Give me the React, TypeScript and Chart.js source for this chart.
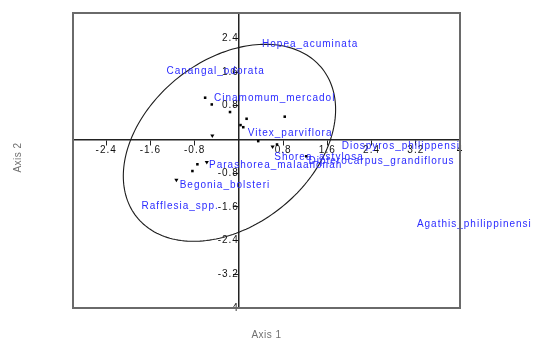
import React, { useEffect, useRef } from 'react';
import { Chart, registerables } from 'chart.js';

Chart.register(...registerables);

// Axis ranges and ticks
const X_MIN = -3;
const X_MAX = 4;
const Y_MIN = -4;
const Y_MAX = 3;
const X_TICKS = [-2.4, -1.6, -0.8, 0, 0.8, 1.6, 2.4, 3.2, 4];
const X_TICK_LABELS = ['-2.4', '-1.6', '-0.8', '', '0.8', '1.6', '2.4', '3.2', '4'];
const Y_TICKS = [-4, -3.2, -2.4, -1.6, -0.8, 0, 0.8, 1.6, 2.4];
const Y_TICK_LABELS = ['-4', '-3.2', '-2.4', '-1.6', '-0.8', '', '0.8', '1.6', '2.4'];

const X_TITLE = 'Axis 1';
const Y_TITLE = 'Axis 2';

// Unlabelled square markers
const SQUARE_X = [-0.61, -0.49, -0.16, 0.14, 0.03, 0.08, 0.35, 0.83, 0.69, 1.22, -0.75, -0.84];
const SQUARE_Y = [0.99, 0.83, 0.65, 0.49, 0.34, 0.29, -0.04, 0.54, -0.12, -0.4, -0.59, -0.75];

// Triangle markers
const TRIANGLE_X = [-0.48, 0.61, -0.58, -1.13];
const TRIANGLE_Y = [0.09, -0.17, -0.54, -0.96];

// Species labels (text anchor: left / middle)
const SPECIES_NAMES = [
  'Hopea_acuminata',
  'Canangal_odorata',
  'Cinamomum_mercadol',
  'Vitex_parviflora',
  'Diospyros_philippensi',
  'Shorea_astylosa',
  'Dipterocarpus_grandiflorus',
  'Parashorea_malaanonan',
  'Begonia_bolsteri',
  'Rafflesia_spp.',
  'Agathis_philippinensi',
];
const SPECIES_X = [0.42, -1.31, -0.45, 0.16, 1.86, 0.64, 1.26, -0.54, -1.07, -1.76, 3.22];
const SPECIES_Y = [2.25, 1.62, 0.97, 0.14, -0.17, -0.43, -0.52, -0.62, -1.09, -1.59, -2.01];

// Confidence ellipse: centre and two conjugate semi-diameters (data units)
const ELLIPSE_CENTER = [-0.17, -0.08];
const ELLIPSE_AXIS_A = [1.92, 0.79];
const ELLIPSE_AXIS_B = [0, 2.2];

const FONT = '"Liberation Sans", Arial, sans-serif';

const overlayPlugin = {
  id: 'overlay',
  beforeDraw(chart: any) {
    chart.ctx.letterSpacing = '1px';
  },
  afterDatasetsDraw(chart: any) {
    const { ctx, scales } = chart;
    const xs = scales.x;
    const ys = scales.y;
    ctx.save();
    // ellipse
    ctx.beginPath();
    const n = 200;
    for (let i = 0; i <= n; i++) {
      const t = (i / n) * Math.PI * 2;
      const c = Math.cos(t);
      const s = Math.sin(t);
      const vx = ELLIPSE_CENTER[0] + ELLIPSE_AXIS_A[0] * c + ELLIPSE_AXIS_B[0] * s;
      const vy = ELLIPSE_CENTER[1] + ELLIPSE_AXIS_A[1] * c + ELLIPSE_AXIS_B[1] * s;
      const px = xs.getPixelForValue(vx);
      const py = ys.getPixelForValue(vy);
      if (i === 0) ctx.moveTo(px, py);
      else ctx.lineTo(px, py);
    }
    ctx.strokeStyle = '#1c1c1c';
    ctx.lineWidth = 1.1;
    ctx.stroke();

    // labels
    ctx.font = `10px ${FONT}`;
    ctx.letterSpacing = '1px';
    ctx.fillStyle = '#2b2bff';
    ctx.textAlign = 'left';
    ctx.textBaseline = 'middle';
    for (let i = 0; i < SPECIES_NAMES.length; i++) {
      ctx.fillText(SPECIES_NAMES[i], xs.getPixelForValue(SPECIES_X[i]), ys.getPixelForValue(SPECIES_Y[i]));
    }
    ctx.restore();
  },
  afterDraw(chart: any) {
    const { ctx, chartArea } = chart;
    ctx.save();
    ctx.strokeStyle = '#6a6a6a';
    ctx.lineWidth = 2;
    ctx.strokeRect(chartArea.left, chartArea.top, chartArea.right - chartArea.left, chartArea.bottom - chartArea.top);

    ctx.font = `10px ${FONT}`;
    ctx.letterSpacing = '0.5px';
    ctx.fillStyle = '#707070';
    ctx.textAlign = 'center';
    ctx.textBaseline = 'middle';
    ctx.fillText(X_TITLE, (chartArea.left + chartArea.right) / 2, chartArea.bottom + 27);
    ctx.translate(18, (chartArea.top + chartArea.bottom) / 2 - 3);
    ctx.rotate(-Math.PI / 2);
    ctx.fillText(Y_TITLE, 0, 0);
    ctx.restore();
    ctx.letterSpacing = '0px';
  },
};

export default function App() {
  const ref = useRef<HTMLCanvasElement>(null);

  useEffect(() => {
    if (!ref.current) return;
    const chart = new Chart(ref.current, {
      type: 'scatter',
      data: {
        datasets: [
          {
            data: SQUARE_X.map((x, i) => ({ x, y: SQUARE_Y[i] })),
            pointStyle: 'rect',
            pointRadius: 1.8,
            backgroundColor: '#000',
            borderColor: '#000',
            borderWidth: 0,
          },
          {
            data: TRIANGLE_X.map((x, i) => ({ x, y: TRIANGLE_Y[i] })),
            pointStyle: 'triangle',
            rotation: 180,
            pointRadius: 2.4,
            backgroundColor: '#000',
            borderColor: '#000',
            borderWidth: 0,
          },
        ],
      },
      plugins: [overlayPlugin],
      options: {
        animation: false,
        responsive: false,
        events: [],
        layout: { padding: { left: 73, top: 13, right: 78, bottom: 37 } },
        plugins: { legend: { display: false }, tooltip: { enabled: false } },
        scales: {
          x: {
            type: 'linear',
            min: X_MIN,
            max: X_MAX,
            position: { y: 0 } as any,
            afterBuildTicks: (scale: any) => {
              scale.ticks = X_TICKS.map((v) => ({ value: v }));
            },
            ticks: {
              autoSkip: false,
              maxRotation: 0,
              padding: 0,
              color: '#111',
              font: { family: FONT, size: 10 },
              callback: (_v: any, i: number) => X_TICK_LABELS[i],
            },
            grid: { drawOnChartArea: false, drawTicks: true, tickLength: 5, color: '#222', lineWidth: 1 },
            border: { display: true, color: '#222', width: 1.5 },
          },
          y: {
            type: 'linear',
            min: Y_MIN,
            max: Y_MAX,
            position: { x: 0 } as any,
            afterBuildTicks: (scale: any) => {
              scale.ticks = Y_TICKS.map((v) => ({ value: v }));
            },
            ticks: {
              autoSkip: false,
              padding: 1,
              color: '#111',
              font: { family: FONT, size: 10 },
              callback: (_v: any, i: number) => Y_TICK_LABELS[i],
            },
            grid: { drawOnChartArea: false, drawTicks: true, tickLength: 5, color: '#222', lineWidth: 1 },
            border: { display: true, color: '#222', width: 1.5 },
          },
        },
      },
    } as any);
    return () => chart.destroy();
  }, []);

  return (
    <div style={{ position: 'fixed', left: 0, top: 0, width: 538, height: 345, background: '#fff' }}>
      <canvas ref={ref} width={538} height={345} style={{ display: 'block' }} />
    </div>
  );
}
